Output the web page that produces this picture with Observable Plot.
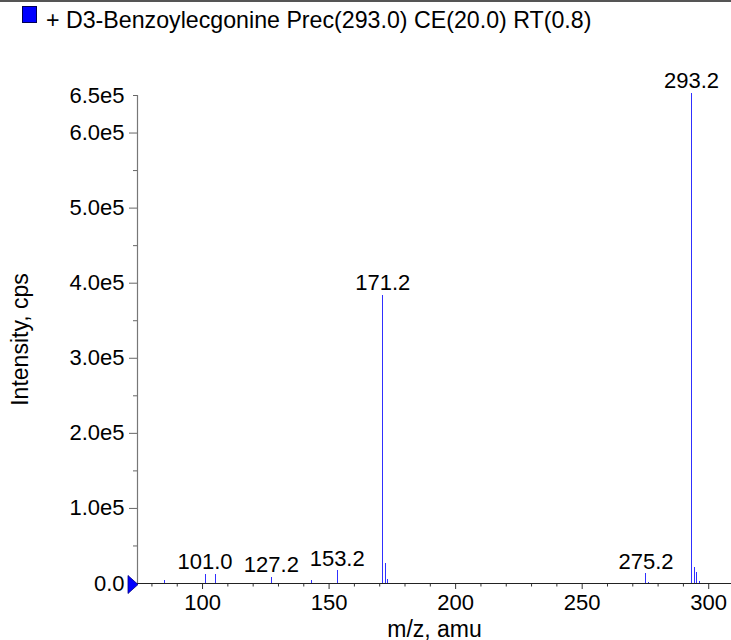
<!DOCTYPE html>
<html><head><meta charset="utf-8">
<script src="https://cdn.jsdelivr.net/npm/d3@7"></script>
<script src="https://cdn.jsdelivr.net/npm/@observablehq/plot@0.6"></script>
<style>
body{margin:0;background:#fff;font-family:"Liberation Sans",Arial,Helvetica,sans-serif;}
#wrap{width:731px;position:relative;}
#hdr{position:relative;height:40px;}
#topline{position:absolute;left:0;top:0;width:731px;height:1.5px;background:#555;}
#sw{position:absolute;left:22px;top:6px;width:13px;height:15px;background:#0000ff;border:1px solid #000055;}
#ttl{position:absolute;left:46px;top:8.5px;font-size:23.2px;line-height:23px;white-space:nowrap;color:#000;}
</style></head>
<body>
<div id="wrap">
  <div id="hdr"><div id="topline"></div><div id="sw"></div><div id="ttl"></div></div>
  <div id="chart"></div>
</div>
<script>
// ---- data ----
const titleText = "+ D3-Benzoylecgonine Prec(293.0) CE(20.0) RT(0.8)";
const mz        = [84.9, 101.0, 105.0, 127.2, 142.9, 153.2, 171.2, 172.2, 173.2, 275.2, 276.2, 293.2, 294.2, 295.2, 296.2];
const intensity = [4000, 12500, 11500, 8000, 4000, 17000, 384000, 27000, 5000, 13000, 1200, 653000, 21000, 14000, 2000];
const labeledMz = [101.0, 127.2, 153.2, 171.2, 275.2, 293.2];
const xMajorTicks = [100, 150, 200, 250, 300];
const xMinorTicks = [80, 90, 110, 120, 130, 140, 160, 170, 180, 190, 210, 220, 230, 240, 260, 270, 280, 290];
const yMajorTicks = [0, 100000, 200000, 300000, 400000, 500000, 600000];
const yTopTick = [650000];
const yMinorTicks = [50000, 150000, 250000, 350000, 450000, 550000];
const xDomain = [74.3, 309];
const yDomain = [0, 650000];

document.getElementById("ttl").textContent = titleText;

const peaks = mz.map((m, i) => ({mz: m, intensity: intensity[i]}));
const labeled = peaks.filter(p => labeledMz.includes(p.mz));
const fmtY = d => d === 0 ? "0.0" : (d / 1e5).toFixed(1) + "e5";

const triSymbol = {draw(ctx) { ctx.moveTo(-9.5, -8); ctx.lineTo(0.5, 1); ctx.lineTo(-9.5, 10); ctx.closePath(); }};

const chart = Plot.plot({
  width: 731, height: 600,
  marginLeft: 137, marginRight: 0, marginTop: 55, marginBottom: 57,
  style: {fontFamily: '"Liberation Sans", Arial, Helvetica, sans-serif', fontSize: "22px", color: "#000", background: "#fff", overflow: "visible"},
  x: {domain: xDomain, axis: null},
  y: {domain: yDomain, axis: null},
  marks: [
    Plot.axisY(yMajorTicks, {tickSize: 8, tickPadding: 5, tickFormat: fmtY, stroke: "#666", fill: "#000", fontSize: 22, label: null}),
    Plot.axisY(yTopTick, {tickSize: 4, tickPadding: 9, tickFormat: fmtY, stroke: "#666", fill: "#000", fontSize: 22, label: null}),
    Plot.axisY(yMinorTicks, {tickSize: 4, tickFormat: () => "", stroke: "#666", label: null}),
    Plot.axisX(xMajorTicks, {tickSize: 6, tickPadding: 5, stroke: "#333", fill: "#000", fontSize: 22, label: null}),
    Plot.axisX(xMinorTicks, {tickSize: 3.5, tickFormat: () => "", stroke: "#333", label: null}),
    Plot.ruleX([xDomain[0]], {stroke: "#777", strokeWidth: 1.2}),
    Plot.ruleY([0], {stroke: "#222", strokeWidth: 1.2}),
    Plot.ruleX(peaks, {x: "mz", y1: 0, y2: "intensity", stroke: "#3030ff", strokeWidth: 1, shapeRendering: "crispEdges"}),
    Plot.text(labeled, {x: "mz", y: "intensity", text: d => d.mz.toFixed(1), dy: -5, lineAnchor: "bottom", fontSize: 22, fill: "#000"}),
    Plot.dot([{x: xDomain[0], y: 0}], {x: "x", y: "y", symbol: triSymbol, r: 1, fill: "#0000ff", stroke: "#000080", strokeWidth: 0.8}),
    Plot.text(["Intensity, cps"], {text: d => d, frameAnchor: "left", dx: -117, rotate: -90, textAnchor: "middle", lineAnchor: "middle", fontSize: 23, fill: "#000"}),
    Plot.text(["m/z, amu"], {text: d => d, frameAnchor: "bottom", dy: 53, lineAnchor: "bottom", fontSize: 23, fill: "#000"})
  ]
});
document.getElementById("chart").appendChild(chart);
</script>
</body></html>
